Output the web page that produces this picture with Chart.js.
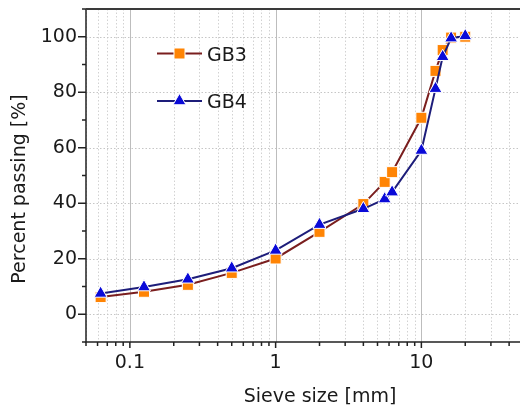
<!DOCTYPE html>
<html><head><meta charset="utf-8">
<script src="https://cdn.jsdelivr.net/npm/chart.js"></script>
<style>html,body{margin:0;padding:0;background:#fff}canvas{display:block}</style>
</head><body>
<canvas id="c" width="520" height="410"></canvas>
<script>
const sieveSize = [0.063, 0.125, 0.25, 0.5, 1, 2, 4, 5.6, 6.3, 10, 12.5, 14, 16, 20];
const gb3Passing = [6.2, 8.1, 10.6, 14.9, 20.1, 29.7, 39.7, 47.7, 51.2, 70.8, 87.7, 95.2, 99.7, 100];
const gb4Passing = [7.5, 9.8, 12.6, 16.6, 23.0, 32.3, 38.0, 41.5, 44.0, 59.0, 81.3, 92.8, 99.5, 100.3];
const seriesNames = ['GB3', 'GB4'];
const xTickValues = [0.1, 1, 10];
const xTickText = ['0.1', '1', '10'];
const yTickValues = [0, 20, 40, 60, 80, 100];
const yMinorValues = [-10, 10, 30, 50, 70, 90, 110];
const xTitle = 'Sieve size [mm]';
const yTitle = 'Percent passing [%]';

const FONT = '"DejaVu Sans", sans-serif';
const FS = 19;

function xMinorValues(scale) {
  const out = [];
  for (let e = -2; e <= 2; e++) {
    for (let m = 2; m <= 9; m++) {
      const v = m * Math.pow(10, e);
      if (v >= scale.min && v <= scale.max) out.push(v);
    }
  }
  return out;
}

const originStyle = {
  id: 'originStyle',
  beforeDatasetsDraw(chart) {
    const {ctx, chartArea: a, scales: {x, y}} = chart;
    ctx.save();
    ctx.beginPath();
    ctx.rect(a.left, a.top, a.right - a.left, a.bottom - a.top);
    ctx.clip();
    ctx.lineWidth = 1;
    ctx.setLineDash([1.5, 2]);
    ctx.strokeStyle = '#d2d2d2';
    xMinorValues(x).forEach(v => {
      const px = Math.round(x.getPixelForValue(v)) + 0.5;
      ctx.beginPath(); ctx.moveTo(px, a.top); ctx.lineTo(px, a.bottom); ctx.stroke();
    });
    ctx.strokeStyle = '#c6c6c6';
    yTickValues.forEach(v => {
      const py = Math.round(y.getPixelForValue(v)) + 0.5;
      ctx.beginPath(); ctx.moveTo(a.left, py); ctx.lineTo(a.right, py); ctx.stroke();
    });
    ctx.setLineDash([]);
    ctx.strokeStyle = '#bdbdbd';
    xTickValues.forEach(v => {
      const px = Math.round(x.getPixelForValue(v)) + 0.5;
      ctx.beginPath(); ctx.moveTo(px, a.top); ctx.lineTo(px, a.bottom); ctx.stroke();
    });
    ctx.restore();
  },
  afterDraw(chart) {
    const {ctx, chartArea: a, scales: {x, y}} = chart;
    ctx.save();
    // axes
    ctx.strokeStyle = '#222';
    ctx.lineWidth = 1.5;
    ctx.beginPath();
    ctx.moveTo(a.left, a.top); ctx.lineTo(a.left, a.bottom); ctx.lineTo(a.right, a.bottom);
    ctx.stroke();
    ctx.strokeStyle = '#3a3a3a';
    ctx.lineWidth = 2;
    ctx.beginPath(); ctx.moveTo(a.left, a.top); ctx.lineTo(a.right, a.top); ctx.stroke();
    // tick marks
    ctx.strokeStyle = '#222';
    ctx.lineWidth = 1.5;
    xTickValues.forEach(v => {
      const px = x.getPixelForValue(v);
      ctx.beginPath(); ctx.moveTo(px, a.bottom); ctx.lineTo(px, a.bottom + 6); ctx.stroke();
    });
    xMinorValues(x).forEach(v => {
      const px = x.getPixelForValue(v);
      ctx.beginPath(); ctx.moveTo(px, a.bottom); ctx.lineTo(px, a.bottom + 4); ctx.stroke();
    });
    yTickValues.forEach(v => {
      const py = y.getPixelForValue(v);
      ctx.beginPath(); ctx.moveTo(a.left, py); ctx.lineTo(a.left - 8, py); ctx.stroke();
    });
    yMinorValues.forEach(v => {
      const py = y.getPixelForValue(v);
      ctx.beginPath(); ctx.moveTo(a.left, py); ctx.lineTo(a.left - 4, py); ctx.stroke();
    });
    // titles
    ctx.fillStyle = '#1a1a1a';
    ctx.font = FS + 'px ' + FONT;
    ctx.textAlign = 'center';
    ctx.textBaseline = 'alphabetic';
    ctx.fillText(xTitle, 320, 402);
    ctx.save();
    ctx.translate(25, 189);
    ctx.rotate(-Math.PI / 2);
    ctx.fillText(yTitle, 0, 0);
    ctx.restore();
    // legend
    const rows = [53.5, 101];
    chart.data.datasets.forEach((ds, i) => {
      const ry = rows[i];
      ctx.strokeStyle = ds.borderColor;
      ctx.lineWidth = ds.borderWidth;
      ctx.beginPath(); ctx.moveTo(157, ry); ctx.lineTo(202, ry); ctx.stroke();
      ctx.fillStyle = ds.pointBackgroundColor;
      ctx.strokeStyle = ds.pointBorderColor;
      ctx.lineWidth = ds.pointBorderWidth;
      Chart.helpers.drawPoint(ctx, {pointStyle: ds.pointStyle, radius: ds.pointRadius, rotation: 0, borderWidth: ds.pointBorderWidth}, 179.5, ry);
      ctx.fillStyle = '#1a1a1a';
      ctx.textAlign = 'left';
      ctx.textBaseline = 'alphabetic';
      ctx.fillText(ds.label, 207, ry + 7);
    });
    ctx.restore();
  }
};

const toPoints = vals => sieveSize.map((s, i) => ({x: s, y: vals[i]}));

new Chart(document.getElementById('c'), {
  type: 'line',
  data: {
    datasets: [
      {
        label: seriesNames[0], data: toPoints(gb3Passing), order: 2,
        borderColor: '#7a1e1e', borderWidth: 2, tension: 0,
        pointStyle: 'rect', pointRadius: 7.8, pointBackgroundColor: '#ff8404',
        pointBorderColor: '#ffffff', pointBorderWidth: 1, pointHoverRadius: 7.8
      },
      {
        label: seriesNames[1], data: toPoints(gb4Passing), order: 1,
        borderColor: '#1d1d7a', borderWidth: 2, tension: 0,
        pointStyle: 'triangle', pointRadius: 7.5, pointBackgroundColor: '#0a0ad8',
        pointBorderColor: '#ffffff', pointBorderWidth: 1, pointHoverRadius: 7.5
      }
    ]
  },
  options: {
    responsive: false,
    animation: false,
    devicePixelRatio: 1,
    layout: {autoPadding: false, padding: {top: 9, left: 0, right: 0, bottom: 0}},
    plugins: {legend: {display: false}, tooltip: {enabled: false}},
    scales: {
      x: {
        type: 'logarithmic', min: 0.05, max: 47.5,
        grid: {display: false, drawTicks: false},
        border: {display: false},
        afterBuildTicks: s => { s.ticks = xTickValues.map(v => ({value: v})); },
        afterFit: s => { s.height = 68; s.paddingLeft = 0; s.paddingRight = 0; s.paddingTop = 0; s.paddingBottom = 0; },
        ticks: {
          autoSkip: false, maxRotation: 0, padding: 10, color: '#1a1a1a',
          font: {family: FONT, size: FS},
          callback: v => { const i = xTickValues.indexOf(v); return i >= 0 ? xTickText[i] : ''; }
        }
      },
      y: {
        type: 'linear', min: -10, max: 110,
        grid: {display: false, drawTicks: false},
        border: {display: false},
        afterBuildTicks: s => { s.ticks = yTickValues.map(v => ({value: v})); },
        afterFit: s => { s.width = 86; s.paddingLeft = 0; s.paddingRight = 0; s.paddingTop = 0; s.paddingBottom = 0; },
        ticks: {
          autoSkip: false, padding: 9, color: '#1a1a1a',
          font: {family: FONT, size: FS},
          callback: v => String(v)
        }
      }
    }
  },
  plugins: [originStyle]
});
</script>
</body></html>
